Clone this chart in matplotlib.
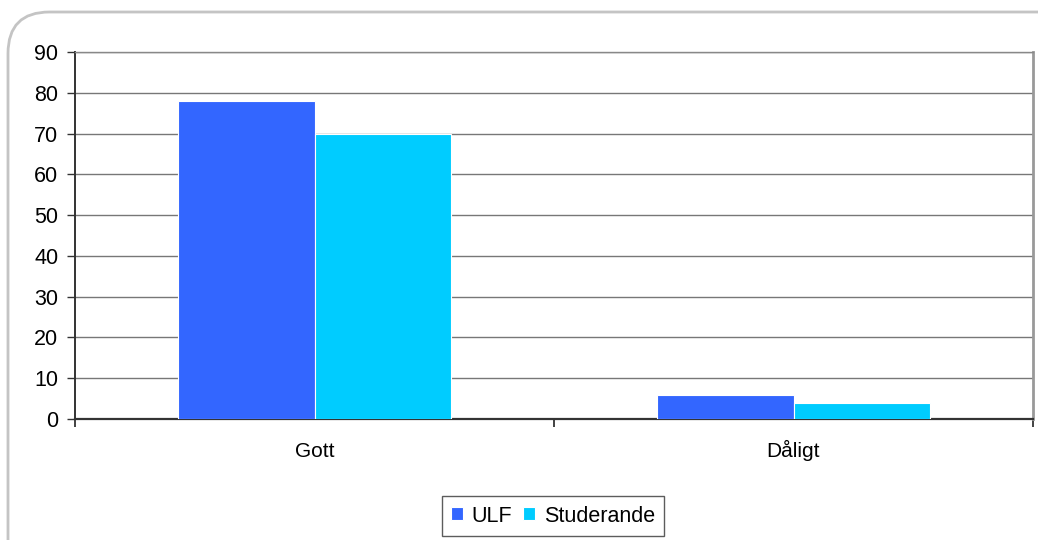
#!/usr/bin/env python3

import matplotlib

matplotlib.use("Agg")

import matplotlib.pyplot as plt
import numpy as np
from matplotlib.patches import FancyBboxPatch


CATEGORIES = ["Gott", "Dåligt"]
SERIES_NAMES = ["ULF", "Studerande"]
ULF_VALUES = [78, 6]
STUDERANDE_VALUES = [70, 4]
Y_TICKS = [0, 10, 20, 30, 40, 50, 60, 70, 80, 90]

COLORS = ["#3366FF", "#00CCFF"]


def main():
    plt.rcParams["font.family"] = ["Liberation Sans", "DejaVu Sans"]

    fig = plt.figure(figsize=(10.38, 5.4), dpi=100)

    # rounded frame around the chart area (clipped by the image edges)
    frame = FancyBboxPatch(
        (8 / 1038, -0.2), 1.2, 1.2 - 12 / 540,
        boxstyle="round,pad=0,rounding_size=0.04",
        transform=fig.transFigure, facecolor="none", edgecolor="#C4C4C4",
        linewidth=2.0, mutation_aspect=1038 / 540, zorder=-1,
    )
    fig.patches.append(frame)

    ax = fig.add_axes([75 / 1038, 121 / 540, 958 / 1038, 367 / 540])
    ax.set_facecolor("white")

    x = np.arange(len(CATEGORIES))
    width = 0.286
    series = [ULF_VALUES, STUDERANDE_VALUES]
    for i, (name, values) in enumerate(zip(SERIES_NAMES, series)):
        offset = (i - 0.5) * width
        ax.bar(x + offset, values, width, color=COLORS[i], edgecolor="white",
               linewidth=0.8, label=name, zorder=3)

    ax.set_xlim(-0.5, len(CATEGORIES) - 0.5)
    ax.set_ylim(0, 90)
    ax.set_yticks(Y_TICKS)
    ax.yaxis.grid(True, color="#777777", linewidth=1.0, zorder=0)

    ax.set_xticks(x)
    ax.set_xticklabels(CATEGORIES)
    for lab in ax.get_xticklabels():
        lab.set_verticalalignment("baseline")
    ax.set_xticks(np.arange(len(CATEGORIES) + 1) - 0.5, minor=True)
    ax.tick_params(axis="x", which="major", length=0, pad=27.5, labelsize=15)
    ax.tick_params(axis="x", which="minor", length=6, width=1.2, color="#222222", direction="out")
    ax.tick_params(axis="y", length=6, width=1.0, color="#333333", pad=6, labelsize=15.5)

    ax.spines["left"].set_color("#333333")
    ax.spines["left"].set_linewidth(1.4)
    ax.spines["bottom"].set_color("#333333")
    ax.spines["bottom"].set_linewidth(1.6)
    ax.spines["right"].set_color("#999999")
    ax.spines["right"].set_linewidth(2.0)
    ax.spines["top"].set_color("#888888")
    ax.spines["top"].set_linewidth(1.0)

    leg = fig.legend(
        loc="center", bbox_to_anchor=(553 / 1038, 1 - 516 / 540), ncol=2,
        fontsize=15.5, frameon=True, fancybox=False, edgecolor="#333333",
        handlelength=0.55, handleheight=0.55, handletextpad=0.4, columnspacing=0.5,
        borderpad=0.45, borderaxespad=0,
    )
    leg.get_frame().set_linewidth(1.0)

    fig.savefig("out.png", dpi=100)
    plt.close(fig)


if __name__ == "__main__":
    main()
